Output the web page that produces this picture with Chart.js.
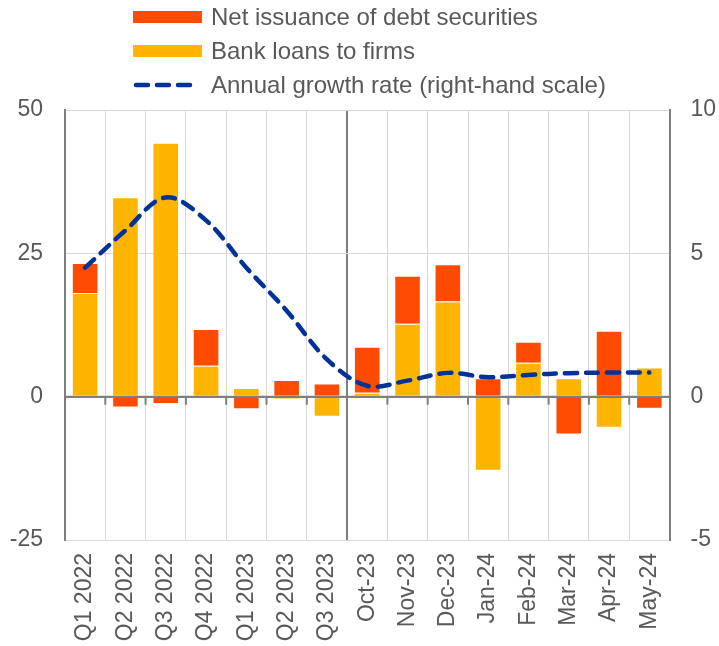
<!DOCTYPE html>
<html>
<head>
<meta charset="utf-8">
<script src="https://cdn.jsdelivr.net/npm/chart.js@4/dist/chart.umd.min.js"></script>
<style>
  html, body { margin: 0; padding: 0; background: #ffffff; }
  #wrap { position: relative; width: 719px; height: 646px; }
  #legend { position: absolute; left: 133px; top: 0; font-family: 'Liberation Sans', Arial, sans-serif; font-size: 24px; color: #595959; }
  .item { position: absolute; left: 0; height: 34px; display: flex; align-items: center; white-space: nowrap; }
  .sw { width: 69px; height: 12px; margin-right: 9px; flex: none; }
  .sw svg { display: block; }
</style>
</head>
<body>
<div id="wrap">
  <canvas id="c" width="719" height="646"></canvas>
  <div id="legend"></div>
</div>
<script>
const categories = ["Q1 2022","Q2 2022","Q3 2022","Q4 2022","Q1 2023","Q2 2023","Q3 2023",
  "Oct-23","Nov-23","Dec-23","Jan-24","Feb-24","Mar-24","Apr-24","May-24"];
const bankLoans = [18.1, 34.8, 44.3, 5.4, 1.5, -0.5, -3.5, 0.7, 12.7, 16.6, -12.9, 5.9, 3.2, -5.4, 5.1];
const debtSecurities = [5.2, -1.9, -1.3, 6.4, -2.2, 2.9, 2.3, 8.0, 8.4, 6.5, 3.2, 3.7, -6.6, 11.5, -2.1];
const growthRate = [4.5, 5.8, 6.95, 6.15, 4.5, 3.0, 1.3, 0.38, 0.56, 0.83, 0.68, 0.76, 0.82, 0.84, 0.84];
const leftTicks = [-25, 0, 25, 50];
const rightTicks = [-5, 0, 5, 10];
const separatorIndex = 7;

const FONT = "'Liberation Sans', Arial, sans-serif";
const TXT = '#595959';
const AXIS = '#7f7f7f';
const GRID = '#d9d9d9';
const ORANGE = '#FF4B00';
const YELLOW = '#FFB400';
const BLUE = '#003299';

const datasets = [
  { type: 'bar', label: 'Bank loans to firms', data: bankLoans, backgroundColor: YELLOW,
    borderColor: 'rgba(255,255,255,0.45)', borderWidth: 1, stack: 's', yAxisID: 'y', order: 1,
    categoryPercentage: 0.66, barPercentage: 1.0 },
  { type: 'bar', label: 'Net issuance of debt securities', data: debtSecurities, backgroundColor: ORANGE,
    borderColor: 'rgba(255,255,255,0.45)', borderWidth: 1, stack: 's', yAxisID: 'y', order: 2,
    categoryPercentage: 0.66, barPercentage: 1.0 },
  { type: 'line', label: 'Annual growth rate (right-hand scale)', data: growthRate, borderColor: BLUE,
    borderWidth: 4.5, borderDash: [12, 9], borderCapStyle: 'round', tension: 0.35, pointRadius: 0,
    fill: false, yAxisID: 'y1', order: 0 }
];

const zeroLinePlugin = {
  id: 'zeroLine',
  beforeDatasetDraw(chart, args) {
    if (chart.data.datasets[args.index].type !== 'line') return;
    const ctx = chart.ctx, x = chart.scales.x, y = chart.scales.y, ca = chart.chartArea;
    const y0 = y.getPixelForValue(0);
    ctx.save();
    ctx.strokeStyle = AXIS;
    ctx.lineWidth = 2;
    ctx.beginPath();
    ctx.moveTo(ca.left, y0); ctx.lineTo(ca.right, y0);
    for (let i = 1; i < categories.length; i++) {
      if (i === separatorIndex) continue;
      const bx = (x.getPixelForValue(i - 1) + x.getPixelForValue(i)) / 2;
      ctx.moveTo(bx, y0); ctx.lineTo(bx, y0 + 8);
    }
    ctx.stroke();
    ctx.restore();
  }
};

const chart = new Chart(document.getElementById('c'), {
  data: { labels: categories, datasets: datasets },
  options: {
    responsive: false,
    animation: false,
    devicePixelRatio: 1,
    layout: { padding: { left: 9, right: 0, top: 110, bottom: 0 } },
    plugins: { legend: { display: false }, tooltip: { enabled: false } },
    scales: {
      x: {
        stacked: true,
        offset: true,
        afterFit: (s) => { s.height = 106; },
        grid: {
          offset: true,
          drawTicks: false,
          color: (c) => c.index === separatorIndex ? AXIS : GRID,
          lineWidth: (c) => c.index === separatorIndex ? 2 : 1
        },
        border: { color: GRID, width: 1 },
        ticks: { font: { family: FONT, size: 23 }, color: TXT, maxRotation: 90, minRotation: 90, padding: 13, autoSkip: false }
      },
      y: {
        stacked: true,
        position: 'left',
        min: -25, max: 50,
        afterFit: (s) => { s.width = 56; },
        afterBuildTicks: (s) => { s.ticks = leftTicks.map(v => ({ value: v })); },
        grid: {
          drawTicks: false,
          color: (c) => c.tick && c.tick.value === 0 ? AXIS : GRID,
          lineWidth: (c) => c.tick && c.tick.value === 0 ? 2 : 1
        },
        border: { color: AXIS, width: 2 },
        ticks: { font: { family: FONT, size: 23 }, color: TXT, padding: 22 }
      },
      y1: {
        position: 'right',
        min: -5, max: 10,
        afterFit: (s) => { s.width = 49.5; },
        afterBuildTicks: (s) => { s.ticks = rightTicks.map(v => ({ value: v })); },
        grid: { drawOnChartArea: false, drawTicks: false },
        border: { color: AXIS, width: 2 },
        ticks: { font: { family: FONT, size: 23 }, color: TXT, padding: 21 }
      }
    }
  },
  plugins: [zeroLinePlugin]
});

// HTML legend built from the datasets
const legendOrder = [1, 0, 2];
const leg = document.getElementById('legend');
legendOrder.forEach((di, row) => {
  const ds = datasets[di];
  const item = document.createElement('div');
  item.className = 'item';
  item.style.top = (row * 34) + 'px';
  const sw = document.createElement('div');
  sw.className = 'sw';
  if (ds.type === 'bar') {
    sw.style.background = ds.backgroundColor;
  } else {
    sw.innerHTML = '<svg width="69" height="12"><line x1="3" y1="6" x2="66" y2="6" stroke="' + ds.borderColor +
      '" stroke-width="4.5" stroke-linecap="round" stroke-dasharray="12 9"/></svg>';
  }
  const t = document.createElement('span');
  t.textContent = ds.label;
  item.appendChild(sw); item.appendChild(t);
  leg.appendChild(item);
});
</script>
</body>
</html>
